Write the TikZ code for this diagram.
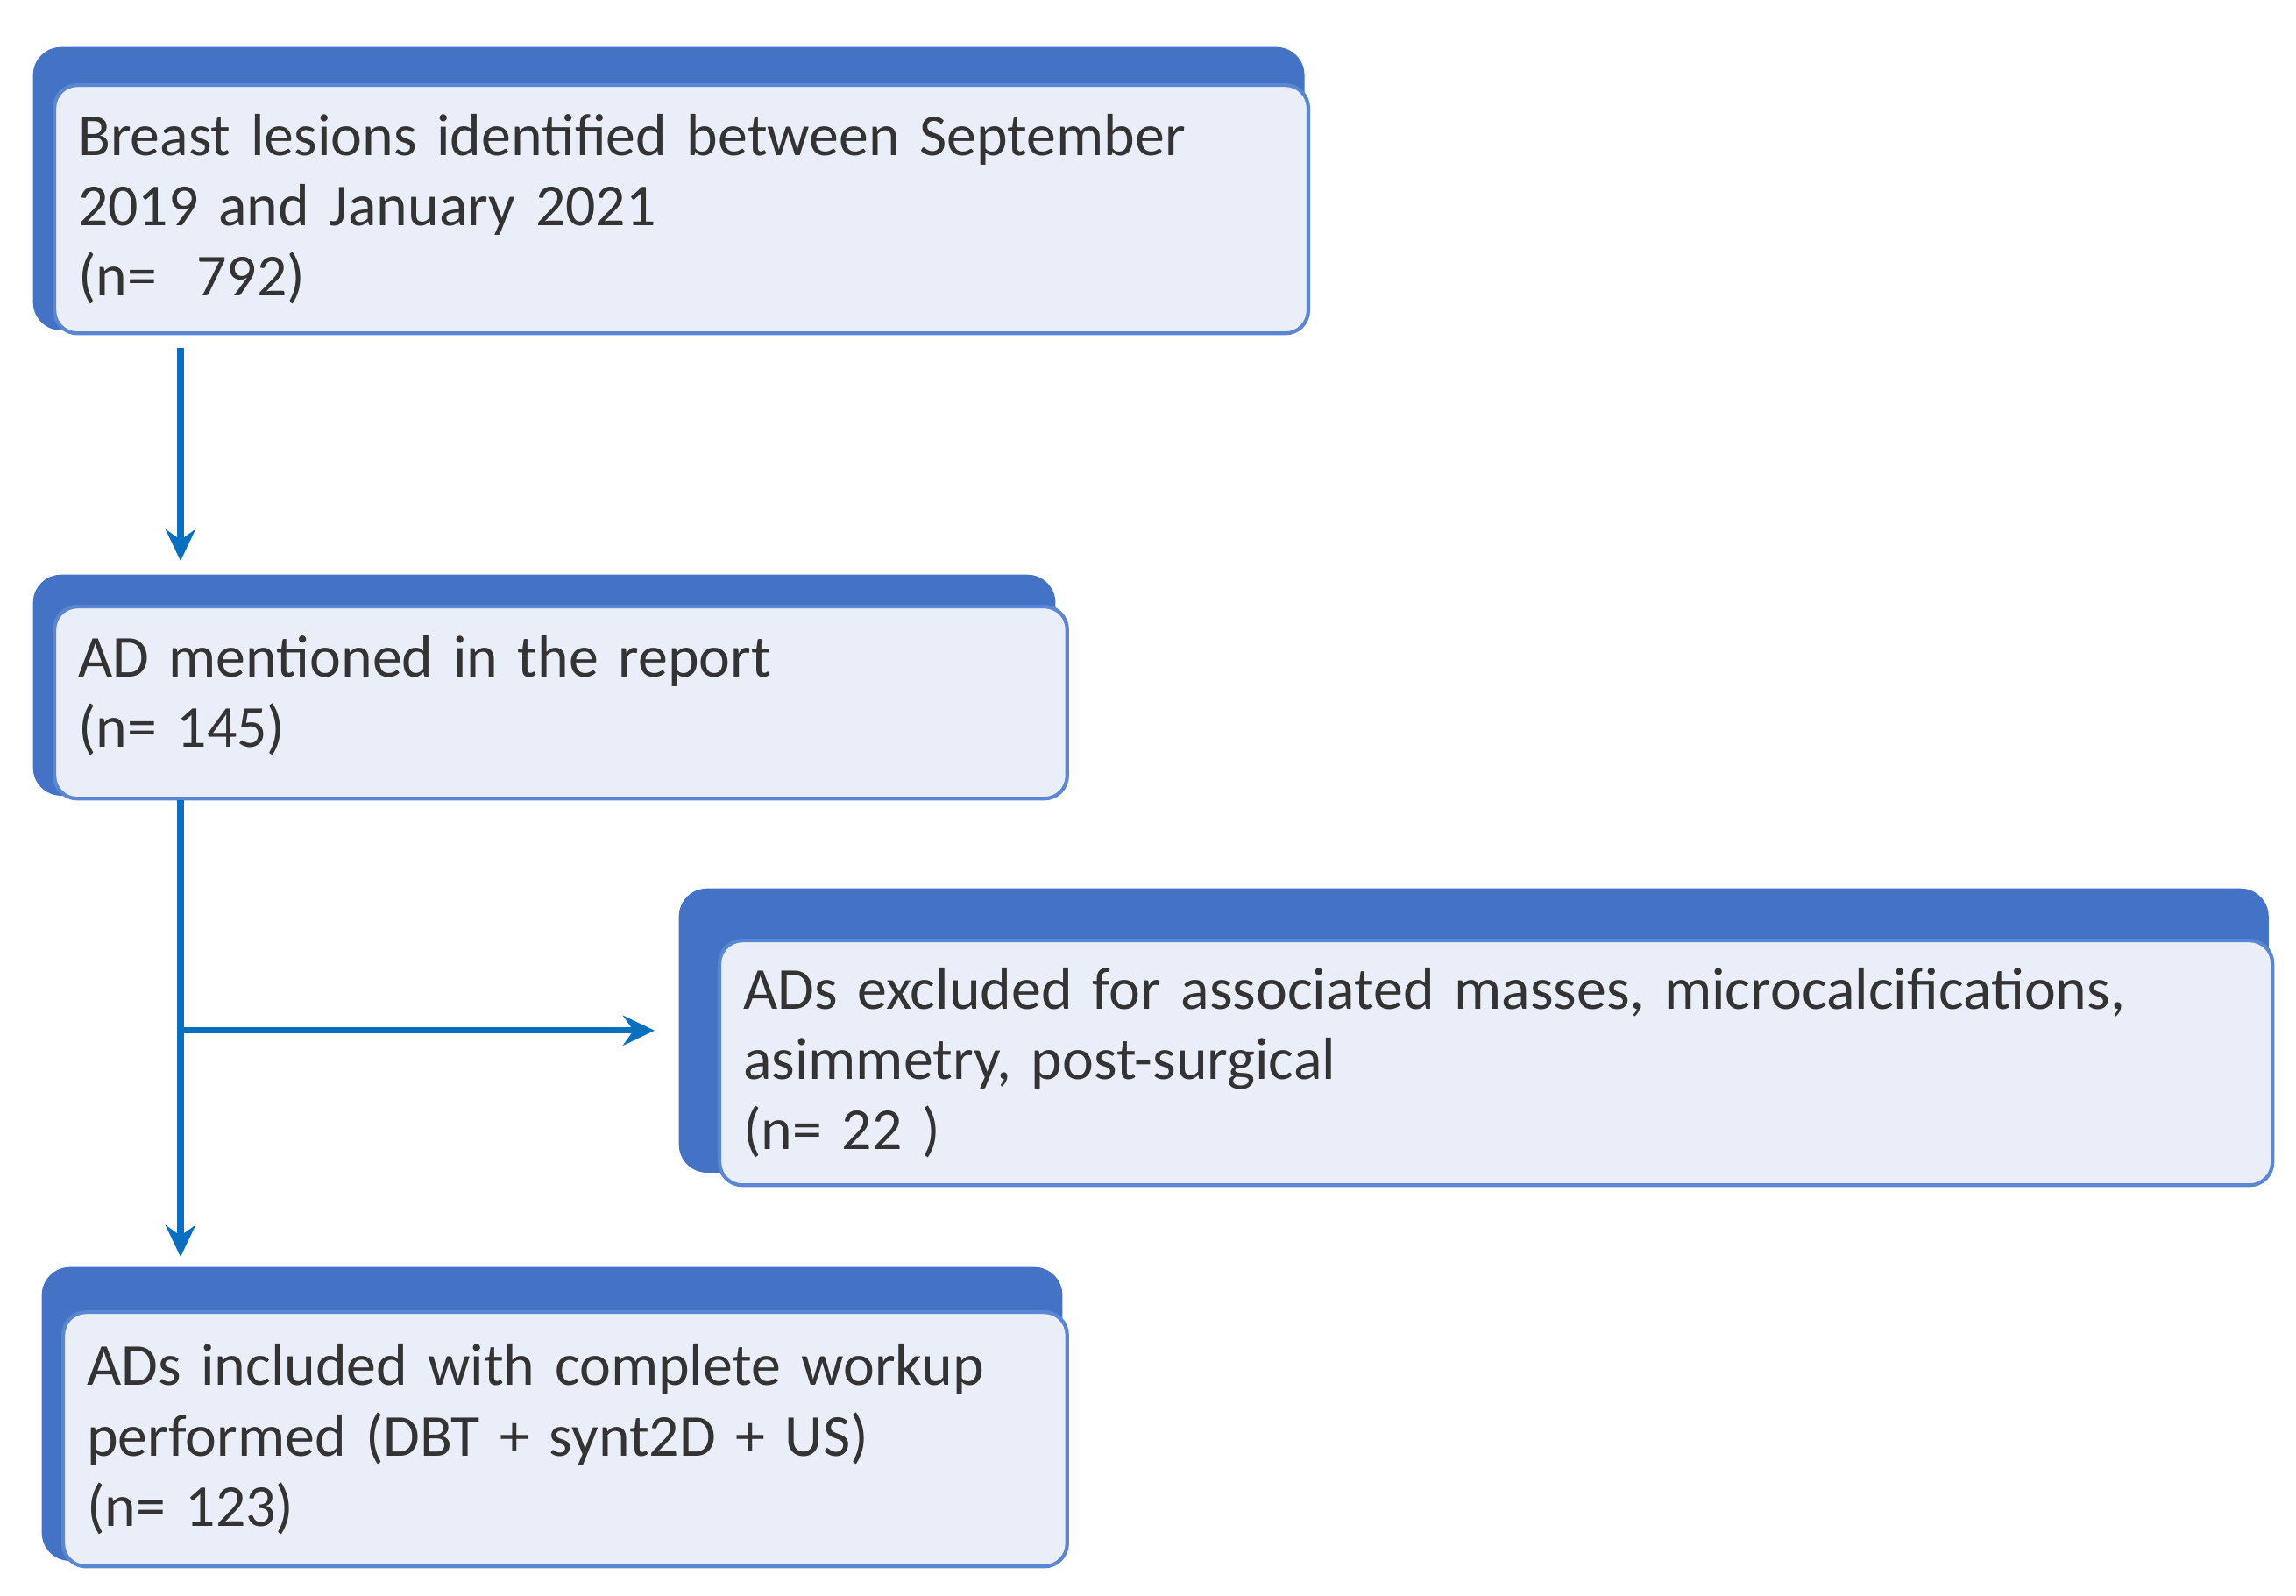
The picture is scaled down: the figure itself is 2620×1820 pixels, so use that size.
\documentclass[tikz,border=0pt]{standalone}
\usepackage{fontspec}
\setmainfont{Carlito}
\usetikzlibrary{arrows.meta}
\definecolor{headblue}{HTML}{4472C4}
\definecolor{boxfill}{HTML}{EAEEF8}
\definecolor{edgeblue}{HTML}{5A86D2}
\definecolor{flowblue}{HTML}{0B6FC0}
\definecolor{txtgray}{HTML}{333333}

\begin{document}
\begin{tikzpicture}[x=0.01cm, y=-0.01cm,
	back/.style={fill=headblue, rounded corners=0.32cm, anchor=north west, inner sep=0pt},
	front/.style={fill=boxfill, draw=edgeblue, line width=1.2pt, rounded corners=0.26cm, anchor=north west,
		inner xsep=0.27cm, inner ysep=0pt, align=left, text=txtgray, font=\fontsize{19.3}{22.8}\selectfont},
	flow/.style={flowblue, line width=2pt, -{Stealth[length=0.36cm, width=0.34cm, inset=0.12cm]}}]
		\useasboundingbox (0,0) rectangle (2620,1820);
		
		% lesions
		\node[back, minimum width=14.5cm, minimum height=3.23cm] (back1) at (37,53) {};
		\node[front, text width=13.76cm, minimum height=2.83cm] (front1) at (60,95)
			{Breast lesions identified between September\\2019 and January 2021\\(n=\ \ 792)};
		
		% mentioned
		\node[back, minimum width=11.66cm, minimum height=2.52cm] (back2) at (37,655) {};
		\node[front, text width=11.01cm, minimum height=2.19cm] (front2) at (60,690)
			{AD mentioned in the report\\(n= 145)\rule[-0.25cm]{0pt}{0pt}};
		
		% excluded
		\node[back, minimum width=18.13cm, minimum height=3.24cm] (back3) at (774,1013) {};
		\node[front, text width=17.17cm, minimum height=2.79cm] (front3) at (819,1071)
			{ADs excluded for associated masses, microcalcifications,\\asimmetry, post-surgical\\(n= 22 )};
		
		% included
		\node[back, minimum width=11.64cm, minimum height=3.35cm] (back4) at (47,1445) {};
		\node[front, text width=10.91cm, minimum height=2.9cm] (front4) at (70,1495)
			{ADs included with complete workup\\performed (DBT + synt2D + US)\\(n= 123)};
		
		% flow arrows
		\coordinate (spine) at (206,0);
		\draw[flow, shorten <=0.15cm, shorten >=0.15cm] (front1.south -| spine) -- (back2.north -| spine);
		\draw[flow, shorten >=0.11cm] (front2.south -| spine) -- (back4.north -| spine);
		\draw[flow, shorten >=0.27cm] (spine |- back3.west) -- (back3.west);
		
\end{tikzpicture}
\end{document}
